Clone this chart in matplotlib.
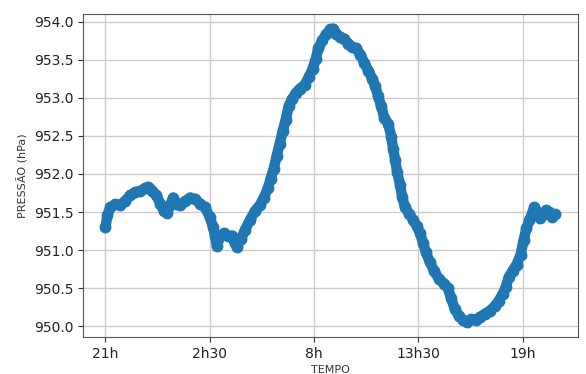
import matplotlib

matplotlib.use("Agg")
import matplotlib.pyplot as plt

# hours since 21h (start of the record) and pressure in hPa
HOURS = [
    0.00, 0.10, 0.26, 0.52, 0.79, 1.05, 1.31, 1.57, 1.84, 2.10,
    2.26, 2.47, 2.68, 2.89, 3.10, 3.25, 3.41, 3.57, 3.73, 3.94,
    4.20, 4.46, 4.72, 4.99, 5.25, 5.51, 5.67, 5.77, 5.88, 6.04,
    6.25, 6.46, 6.67, 6.82, 6.93, 7.14, 7.35, 7.61, 7.87, 8.14,
    8.35, 8.56, 8.71, 8.87, 9.03, 9.19, 9.34, 9.50, 9.66, 9.82,
    10.03, 10.24, 10.50, 10.71, 10.92, 11.08, 11.23, 11.44, 11.65, 11.86,
    12.02, 12.18, 12.39, 12.60, 12.81, 13.02, 13.23, 13.44, 13.65, 13.86,
    14.07, 14.23, 14.38, 14.54, 14.70, 14.91, 15.07, 15.17, 15.28, 15.38,
    15.54, 15.64, 15.80, 16.01, 16.22, 16.43, 16.59, 16.75, 16.90, 17.11,
    17.32, 17.59, 17.85, 18.06, 18.22, 18.43, 18.64, 18.85, 19.06, 19.27,
    19.53, 19.74, 20.00, 20.26, 20.52, 20.73, 20.94, 21.10, 21.26, 21.47,
    21.68, 21.89, 22.05, 22.20, 22.36, 22.52, 22.62, 22.78, 22.94, 23.10,
    23.25, 23.41, 23.57, 23.73,
]
PRESSURE = [
    951.30, 951.46, 951.56, 951.60, 951.59, 951.65, 951.72, 951.76, 951.78, 951.81,
    951.83, 951.78, 951.72, 951.61, 951.51, 951.49, 951.59, 951.69, 951.61, 951.59,
    951.64, 951.69, 951.67, 951.61, 951.56, 951.43, 951.30, 951.19, 951.05, 951.18,
    951.22, 951.18, 951.19, 951.09, 951.04, 951.14, 951.26, 951.39, 951.51, 951.59,
    951.69, 951.81, 951.94, 952.07, 952.24, 952.40, 952.56, 952.71, 952.89, 952.98,
    953.06, 953.12, 953.17, 953.27, 953.38, 953.51, 953.65, 953.76, 953.84, 953.90,
    953.91, 953.84, 953.80, 953.78, 953.71, 953.67, 953.65, 953.57, 953.46, 953.36,
    953.25, 953.15, 953.02, 952.89, 952.74, 952.66, 952.49, 952.33, 952.18, 952.02,
    951.86, 951.70, 951.56, 951.48, 951.40, 951.31, 951.22, 951.09, 950.97, 950.84,
    950.73, 950.62, 950.56, 950.50, 950.37, 950.22, 950.13, 950.08, 950.05, 950.09,
    950.08, 950.12, 950.16, 950.20, 950.26, 950.33, 950.42, 950.51, 950.64, 950.73,
    950.81, 950.94, 951.13, 951.29, 951.39, 951.50, 951.56, 951.50, 951.42, 951.47,
    951.52, 951.50, 951.44, 951.47,
]

TICK_HOURS = [0, 5.5, 11, 16.5, 22]
TICK_LABELS = ["21h", "2h30", "8h", "13h30", "19h"]

fig = plt.figure(figsize=(5.86, 3.74), dpi=100)
ax = fig.add_axes([0.1416, 0.0989, 0.8447, 0.8637])

ax.plot(HOURS, PRESSURE, "o-", color="#1f77b4", lw=7.5, ms=7.5,
        solid_capstyle="round", solid_joinstyle="round")

ax.set_xticks(TICK_HOURS)
ax.set_xticklabels(TICK_LABELS)
ax.grid(True, color="#cccccc", lw=1)
ax.set_axisbelow(True)
for s in ax.spines.values():
    s.set_color("#555555")
ax.tick_params(colors="#333333", labelcolor="#222222", labelsize=10)

ax.set_ylabel("PRESSÃO (hPa)", fontsize=8, color="#333333")
ax.set_xlabel("TEMPO", fontsize=8, color="#333333", labelpad=3)

fig.savefig("out.png", dpi=100)
